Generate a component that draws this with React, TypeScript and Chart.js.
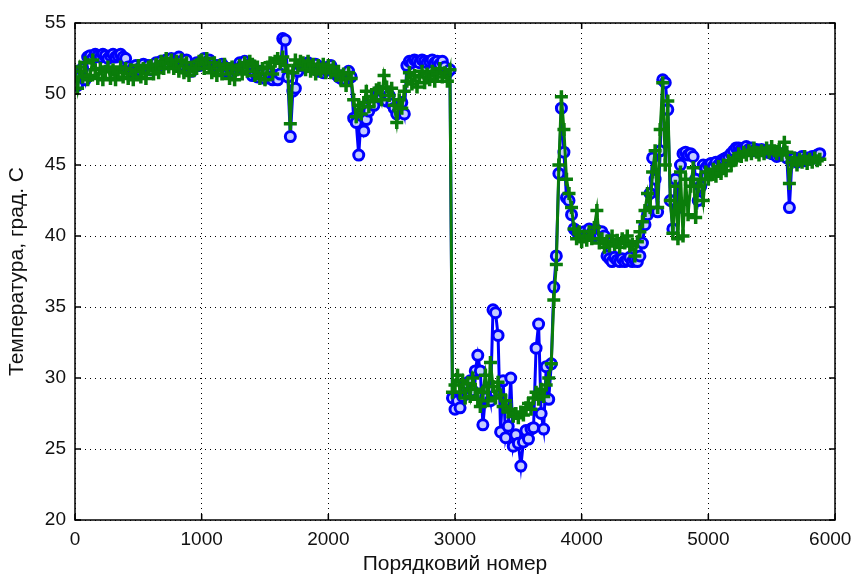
import React, { useEffect, useRef } from "react";
import { Chart, registerables } from "chart.js";

Chart.register(...registerables);

// Sample numbers (порядковий номер): one reading every 20 samples, 0 … 5880
const sampleStep = 20;

// Blue series (circles), one row = 10 readings = 200 samples
const measuredTemp: number[] = [
  50.9, 50.6, 51.2, 51.8, 51.0, 52.6, 52.7, 52.5, 52.8, 52.7, // 0
  52.6, 52.8, 52.7, 52.5, 52.7, 52.8, 52.6, 52.7, 52.8, 52.6, // 200
  52.5, 51.9, 51.6, 51.8, 52.0, 51.7, 51.9, 52.1, 51.8, 52.0, // 400
  51.7, 52.0, 52.2, 51.9, 52.3, 52.1, 52.4, 52.2, 52.5, 52.3, // 600
  52.2, 52.6, 52.3, 52.0, 52.4, 51.8, 51.6, 51.9, 52.2, 52.0, // 800
  52.3, 52.5, 52.2, 52.4, 52.1, 51.8, 52.0, 51.7, 52.1, 51.9, // 1000
  51.6, 51.8, 51.5, 51.7, 51.9, 52.2, 52.0, 52.3, 51.9, 52.1, // 1200
  51.3, 51.5, 51.2, 51.6, 51.4, 51.1, 51.5, 51.2, 51.0, 51.3, // 1400
  51.0, 51.4, 53.9, 53.8, 51.2, 47.0, 50.2, 50.4, 51.6, 52.0, // 1600
  52.1, 51.9, 52.2, 52.0, 51.8, 52.1, 51.6, 51.9, 51.5, 51.7, // 1800
  51.9, 52.0, 51.7, 51.4, 51.2, 51.1, 51.3, 51.0, 51.6, 51.2, // 2000
  48.3, 48.0, 45.7, 48.5, 47.4, 48.2, 48.8, 49.5, 49.2, 49.8, // 2200
  50.2, 49.7, 50.1, 49.5, 49.9, 49.3, 49.0, 48.6, 48.9, 49.4, // 2400
  48.6, 52.0, 52.3, 52.2, 52.4, 52.3, 52.2, 52.4, 52.3, 52.2, // 2600
  52.3, 52.4, 52.2, 52.3, 52.1, 52.3, 51.9, 51.5, 51.7, 28.6, // 2800
  27.8, 28.4, 27.9, 28.7, 29.6, 28.9, 29.8, 29.1, 30.5, 31.6, // 3000
  30.5, 26.7, 28.6, 29.3, 28.4, 34.8, 34.6, 33.0, 26.2, 29.8, // 3200
  25.8, 26.6, 30.0, 25.2, 26.0, 25.4, 23.8, 25.5, 26.3, 25.7, // 3400
  26.4, 26.5, 32.1, 33.8, 27.5, 26.4, 30.8, 28.5, 31.0, 36.4, // 3600
  38.6, 44.4, 49.0, 45.9, 42.7, 42.5, 41.5, 40.5, 40.3, 40.2, // 3800
  40.0, 40.3, 40.1, 40.5, 40.2, 40.0, 40.4, 40.1, 40.3, 40.0, // 4000
  38.6, 38.4, 38.2, 38.5, 38.3, 38.2, 38.4, 38.2, 38.3, 38.5, // 4200
  38.2, 38.3, 38.2, 38.6, 39.5, 40.8, 41.5, 43.0, 45.5, 44.0, // 4400
  41.7, 46.0, 51.0, 50.8, 48.9, 42.5, 40.5, 44.0, 42.0, 45.0, // 4600
  45.8, 45.9, 45.7, 45.8, 45.6, 44.0, 42.5, 43.5, 45.0, 44.8, // 4800
  45.0, 45.1, 44.9, 45.2, 45.0, 45.3, 45.4, 45.5, 45.6, 45.8, // 5000
  46.0, 46.2, 46.2, 46.1, 46.2, 46.3, 46.1, 46.2, 46.0, 46.1, // 5200
  46.0, 46.1, 46.0, 45.9, 46.0, 45.8, 45.9, 45.6, 45.7, 45.8, // 5400
  45.7, 45.5, 42.0, 45.3, 45.5, 45.2, 45.4, 45.6, 45.3, 45.5, // 5600
  45.4, 45.6, 45.5, 45.7, 45.8, // 5800
];

// Green series (pluses)
const modelTemp: number[] = [
  51.6, 50.4, 51.9, 51.2, 52.2, 51.0, 51.3, 52.4, 51.7, 51.1, // 0
  51.8, 51.0, 51.6, 51.9, 51.1, 51.7, 51.0, 51.5, 51.9, 51.2, // 200
  51.8, 51.1, 51.7, 51.0, 51.6, 52.0, 51.2, 51.8, 51.1, 51.9, // 400
  52.0, 51.4, 52.1, 51.5, 52.3, 51.8, 52.5, 51.9, 52.4, 51.8, // 600
  52.3, 51.6, 52.4, 51.5, 52.2, 51.3, 51.9, 51.7, 51.8, 52.3, // 800
  52.4, 51.8, 52.5, 51.9, 51.5, 52.2, 51.3, 52.0, 51.4, 52.1, // 1000
  51.8, 51.1, 51.9, 51.0, 51.7, 52.0, 51.4, 52.2, 51.6, 52.3, // 1200
  52.1, 51.3, 51.9, 51.1, 51.8, 51.0, 51.9, 52.2, 51.4, 52.3, // 1400
  52.5, 52.2, 52.6, 52.0, 51.6, 47.9, 51.5, 52.4, 52.0, 52.3, // 1600
  52.2, 51.7, 52.3, 51.6, 52.1, 51.4, 52.0, 51.6, 52.1, 51.5, // 1800
  52.0, 51.5, 51.9, 51.3, 51.6, 51.0, 51.4, 50.6, 51.5, 51.1, // 2000
  49.6, 48.4, 49.2, 48.6, 49.4, 50.2, 49.1, 49.8, 49.5, 50.3, // 2200
  50.4, 49.6, 51.3, 50.5, 49.9, 50.4, 49.2, 48.0, 49.6, 49.0, // 2400
  50.2, 50.9, 51.5, 50.7, 51.3, 50.5, 51.2, 51.6, 50.8, 51.4, // 2600
  51.0, 51.6, 50.9, 51.4, 51.8, 51.2, 51.5, 50.9, 51.7, 29.0, // 2800
  29.5, 30.2, 29.0, 29.8, 28.6, 29.6, 28.7, 30.0, 29.2, 28.5, // 3000
  28.0, 29.0, 30.2, 28.4, 31.1, 29.4, 28.6, 29.7, 28.8, 28.0, // 3200
  28.4, 27.6, 27.8, 27.3, 27.5, 27.2, 27.6, 27.4, 27.9, 28.2, // 3400
  27.8, 28.6, 29.0, 28.5, 29.2, 28.7, 29.5, 30.0, 31.0, 35.5, // 3600
  38.0, 45.0, 49.8, 47.5, 44.0, 43.0, 42.0, 40.5, 39.8, 40.3, // 3800
  39.6, 40.0, 39.7, 40.3, 39.8, 40.6, 41.8, 39.5, 39.8, 39.2, // 4000
  39.6, 39.3, 40.0, 39.4, 39.7, 39.2, 39.8, 39.5, 40.0, 39.3, // 4200
  39.4, 38.6, 39.6, 40.3, 41.0, 41.8, 43.0, 42.0, 44.5, 46.0, // 4400
  42.0, 47.5, 50.8, 45.0, 49.5, 42.5, 40.2, 43.5, 39.8, 44.5, // 4600
  40.0, 44.0, 41.5, 43.5, 44.8, 41.3, 43.5, 44.0, 42.5, 44.5, // 4800
  44.0, 44.3, 44.7, 44.2, 44.9, 44.4, 45.0, 44.6, 45.3, 45.0, // 5000
  45.3, 45.5, 45.8, 45.6, 45.9, 45.7, 46.0, 45.8, 46.2, 45.9, // 5200
  45.7, 46.0, 45.8, 46.2, 45.9, 46.3, 46.0, 45.8, 46.1, 45.7, // 5400
  46.6, 45.9, 43.7, 45.2, 45.5, 45.0, 45.4, 45.2, 45.6, 45.1, // 5600
  45.4, 45.2, 45.5, 45.3, 45.4, // 5800
];

const xTickValues: number[] = [0, 1000, 2000, 3000, 4000, 5000, 6000];
const yTickValues: number[] = [20, 25, 30, 35, 40, 45, 50, 55];

const xTitle = "Порядковий номер";
const yTitle = "Температура, град. С";

export default function App() {
  const canvasRef = useRef<HTMLCanvasElement>(null);

  useEffect(() => {
    document.body.style.margin = "0";
    const canvas = canvasRef.current;
    if (!canvas) return;

    const blueData = measuredTemp.map((y, i) => ({ x: i * sampleStep, y }));
    const greenData = modelTemp.map((y, i) => ({ x: i * sampleStep, y }));
    const lastX = xTickValues[xTickValues.length - 1];

    const boxPlugin = {
      id: "matlabBox",
      afterDatasetsDraw(chart: any) {
        const { ctx, chartArea } = chart;
        const { left, right, top, bottom } = chartArea;
        ctx.save();
        ctx.strokeStyle = "#000";
        ctx.lineWidth = 1.5;
        ctx.setLineDash([]);
        ctx.strokeRect(left, top, right - left, bottom - top);
        const tl = 6;
        const xs = chart.scales.x;
        const ys = chart.scales.y;
        ctx.beginPath();
        xTickValues.forEach((v) => {
          const px = xs.getPixelForValue(v);
          ctx.moveTo(px, bottom);
          ctx.lineTo(px, bottom - tl);
          ctx.moveTo(px, top);
          ctx.lineTo(px, top + tl);
        });
        yTickValues.forEach((v) => {
          const py = ys.getPixelForValue(v);
          ctx.moveTo(left, py);
          ctx.lineTo(left + tl, py);
          ctx.moveTo(right, py);
          ctx.lineTo(right - tl, py);
        });
        ctx.stroke();
        ctx.restore();
      },
    };

    const family = "'Liberation Sans', Arial, sans-serif";
    const tickFont = { family, size: 19 };
    const titleFont = { family, size: 21 };

    const chart = new Chart(canvas, {
      type: "line",
      data: {
        datasets: [
          {
            label: "green",
            data: greenData,
            borderColor: "#0a7d0a",
            backgroundColor: "#0a7d0a",
            borderWidth: 3,
            pointStyle: "cross",
            pointRadius: 6.5,
            pointBorderWidth: 3.5,
            pointBorderColor: "#0a7d0a",
            pointBackgroundColor: "#0a7d0a",
            tension: 0,
            fill: false,
            order: 0,
          },
          {
            label: "blue",
            data: blueData,
            borderColor: "#0000ff",
            backgroundColor: "#0000ff",
            borderWidth: 3,
            pointStyle: "circle",
            pointRadius: 5,
            pointBorderWidth: 3,
            pointBorderColor: "#0000ff",
            pointBackgroundColor: "#c4ccff",
            tension: 0,
            fill: false,
            order: 1,
          },
        ],
      },
      options: {
        animation: false,
        responsive: false,
        devicePixelRatio: 1,
        layout: { padding: { top: 23, right: 19, left: 0, bottom: 0 } },
        plugins: {
          legend: { display: false },
          tooltip: { enabled: false },
        },
        scales: {
          x: {
            type: "linear",
            min: 0,
            max: 6000,
            afterBuildTicks: (scale: any) => {
              scale.ticks = xTickValues.map((v) => ({ value: v }));
            },
            afterFit: (scale: any) => {
              scale.height = 58;
              scale.paddingLeft = 0;
              scale.paddingRight = 0;
            },
            grid: { color: "#000", lineWidth: 1, drawTicks: false },
            border: { display: false, dash: [1, 4] },
            ticks: {
              color: "#111",
              font: tickFont,
              padding: 8,
              maxRotation: 0,
              autoSkip: false,
              // the last label is nudged left (like MATLAB) so it fits the window
              callback: (v: any) => (v === lastX ? String(v) + "\u2002" : String(v)),
            },
            title: {
              display: true,
              text: xTitle,
              color: "#111",
              font: titleFont,
              padding: { top: 0, bottom: 1 },
            },
          },
          y: {
            type: "linear",
            min: 20,
            max: 55,
            afterBuildTicks: (scale: any) => {
              scale.ticks = yTickValues.map((v) => ({ value: v }));
            },
            afterFit: (scale: any) => {
              scale.width = 75;
              scale.paddingTop = 0;
              scale.paddingBottom = 0;
            },
            grid: { color: "#000", lineWidth: 1, drawTicks: false },
            border: { display: false, dash: [1, 4] },
            ticks: {
              color: "#111",
              font: tickFont,
              padding: 9,
              autoSkip: false,
              callback: (v: any) => String(v),
            },
            title: {
              display: true,
              text: yTitle,
              color: "#111",
              font: titleFont,
              padding: { top: 5, bottom: 0 },
            },
          },
        },
      },
      plugins: [boxPlugin],
    });

    return () => {
      chart.destroy();
    };
  }, []);

  return (
    <div style={{ width: 854, height: 578, position: "relative", background: "#fff" }}>
      <canvas ref={canvasRef} width={854} height={578} style={{ display: "block" }} />
    </div>
  );
}
